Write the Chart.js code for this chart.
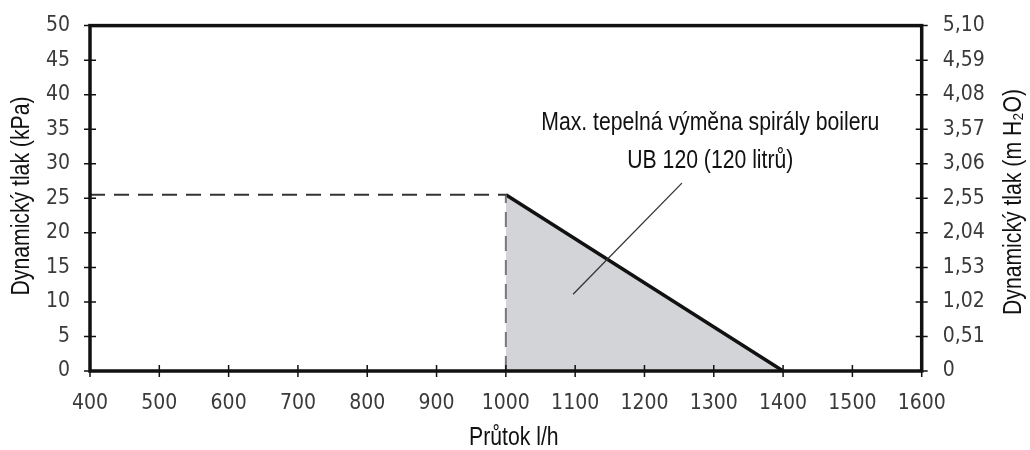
<!DOCTYPE html>
<html>
<head>
<meta charset="utf-8">
<script src="https://cdn.jsdelivr.net/npm/chart.js@4"></script>
<style>
  html, body { margin: 0; padding: 0; background: #fff; }
  #wrap { width: 1030px; height: 450px; }
</style>
</head>
<body>
<div id="wrap"><canvas id="chart"></canvas></div>
<script>
/* Pressure drop chart — UB 120 coil */

// data
const flowTicks = [400, 500, 600, 700, 800, 900, 1000, 1100, 1200, 1300, 1400, 1500, 1600];
const kpaTicks = [0, 5, 10, 15, 20, 25, 30, 35, 40, 45, 50];
const mh2oTicks = ['0', '0,51', '1,02', '1,53', '2,04', '2,55', '3,06', '3,57', '4,08', '4,59', '5,10'];

const curveFlow = [1000, 1400];
const curveKpa = [25.5, 0];
const limitFlow = [400, 1000];
const limitKpa = [25.5, 25.5];
const dropFlow = [1000, 1000];
const dropKpa = [0, 25.5];
const leaderFlow = [1254, 1097];
const leaderKpa = [27.2, 11.1];

const noteLines = ['Max. tepelná výměna spirály boileru', 'UB 120 (120 litrů)'];
const noteAt = { x: 1295, y: 35.9, step: 5.5 };

const titleX = 'Průtok l/h';
const titleLeft = 'Dynamický tlak (kPa)';
const titleRight = 'Dynamický tlak (m H₂O)';

const pts = (xs, ys) => xs.map((x, i) => ({ x, y: ys[i] }));

const tickFont = { family: '"DejaVu Sans Condensed", "DejaVu Sans"', size: 21 };
const textFont = '26px "Liberation Sans", Arial';
const narrow = 0.815; // the original uses a narrow sans

function drawNarrow(ctx, text, x, y, rot) {
  ctx.save();
  ctx.translate(x, y);
  if (rot) ctx.rotate(rot);
  ctx.scale(narrow, 1);
  ctx.fillText(text, 0, 0);
  ctx.restore();
}

// frame, crossing tick marks, titles and the note text
const framePlugin = {
  id: 'frame',
  afterDatasetsDraw(chart) {
    const { ctx, chartArea: a, scales } = chart;
    ctx.save();
    ctx.strokeStyle = '#111';
    ctx.lineWidth = 1.5;
    ctx.beginPath();
    flowTicks.forEach(v => {
      const px = scales.x.getPixelForValue(v);
      ctx.moveTo(px, a.bottom - 6); ctx.lineTo(px, a.bottom + 6);
    });
    kpaTicks.forEach(v => {
      const py = scales.y.getPixelForValue(v);
      ctx.moveTo(a.left - 6, py); ctx.lineTo(a.left + 6, py);
      ctx.moveTo(a.right - 6, py); ctx.lineTo(a.right + 6, py);
    });
    ctx.stroke();
    ctx.lineWidth = 3.5;
    ctx.strokeRect(a.left, a.top, a.right - a.left, a.bottom - a.top);

    ctx.fillStyle = '#111';
    ctx.font = textFont;
    ctx.textAlign = 'center';
    ctx.textBaseline = 'middle';
    noteLines.forEach((t, i) => {
      drawNarrow(ctx, t, scales.x.getPixelForValue(noteAt.x), scales.y.getPixelForValue(noteAt.y - i * noteAt.step));
    });

    drawNarrow(ctx, titleX, (a.left + a.right) / 2 + 8, 438);
    drawNarrow(ctx, titleLeft, 22, 196, -Math.PI / 2);
    drawNarrow(ctx, titleRight, 1014, 202, -Math.PI / 2);

    ctx.restore();
  }
};

new Chart(document.getElementById('chart'), {
  type: 'line',
  data: {
    datasets: [
      {
        data: pts(curveFlow, curveKpa),
        borderColor: '#111',
        borderWidth: 3.5,
        backgroundColor: '#d3d4d7',
        fill: 'origin',
        pointRadius: 0,
        order: 2
      },
      {
        data: pts(limitFlow, limitKpa),
        borderColor: '#333',
        borderWidth: 2,
        borderDash: [15, 9],
        pointRadius: 0,
        fill: false,
        order: 1
      },
      {
        data: pts(dropFlow, dropKpa),
        borderColor: '#777',
        borderWidth: 2,
        borderDash: [15, 9],
        pointRadius: 0,
        fill: false,
        order: 1
      },
      {
        data: pts(leaderFlow, leaderKpa),
        borderColor: '#333',
        borderWidth: 1.3,
        pointRadius: 0,
        fill: false,
        order: 0
      }
    ]
  },
  options: {
    responsive: true,
    maintainAspectRatio: false,
    animation: false,
    layout: { padding: { top: 24 } },
    plugins: {
      legend: { display: false },
      tooltip: { enabled: false }
    },
    scales: {
      x: {
        type: 'linear',
        min: 400,
        max: 1600,
        afterBuildTicks: s => { s.ticks = flowTicks.map(v => ({ value: v })); },
        afterFit: s => { s.height = 79; },
        grid: { display: false },
        border: { display: false },
        ticks: { font: tickFont, color: '#3a3a3a', padding: 12, maxRotation: 0, autoSkip: false, callback: v => String(v) }
      },
      y: {
        position: 'left',
        min: 0,
        max: 50,
        afterBuildTicks: s => { s.ticks = kpaTicks.map(v => ({ value: v })); },
        afterFit: s => { s.width = 90; },
        grid: { display: false },
        border: { display: false },
        ticks: { font: tickFont, color: '#3a3a3a', padding: 12, autoSkip: false }
      },
      y2: {
        position: 'right',
        min: 0,
        max: 50,
        afterBuildTicks: s => { s.ticks = kpaTicks.map(v => ({ value: v })); },
        afterFit: s => { s.width = 108.3; },
        grid: { display: false },
        border: { display: false },
        ticks: {
          font: tickFont,
          color: '#3a3a3a',
          padding: 13,
          autoSkip: false,
          callback: (v, i) => mh2oTicks[i]
        }
      }
    }
  },
  plugins: [framePlugin]
});
</script>
</body>
</html>
